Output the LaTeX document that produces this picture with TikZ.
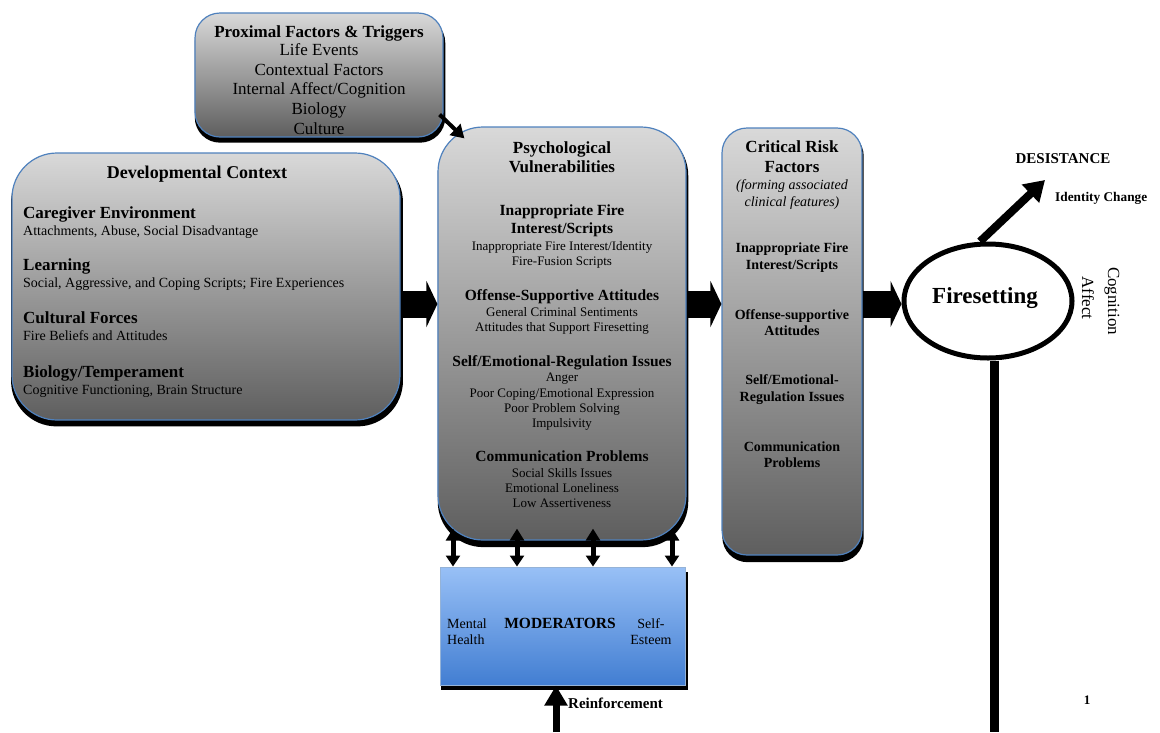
\documentclass[tikz,border=0pt]{standalone}
\usepackage{fontspec}
\setmainfont{Liberation Serif}
\usetikzlibrary{arrows.meta, shapes.geometric, shadows, positioning}

\definecolor{boxline}{RGB}{79,129,189}
\definecolor{modtop}{RGB}{152,192,246}
\definecolor{modbot}{RGB}{66,126,210}

\begin{document}
\begin{tikzpicture}[x=1pt, y=-1pt, inner sep=0pt,
  gray box/.style={draw=boxline, line width=1.2pt, top color=black!15, bottom color=black!63,
    drop shadow={opacity=1, fill=black, shadow xshift=1pt, shadow yshift=-5pt, shadow scale=1.01}},
  blue box/.style={draw=boxline!60, line width=1pt, top color=modtop, bottom color=modbot,
    drop shadow={opacity=1, fill=black, shadow xshift=2pt, shadow yshift=-5pt, shadow scale=1.005}},
  fire node/.style={ellipse, draw=black, line width=5pt, fill=white, minimum width=168pt, minimum height=114pt},
  title node/.style={anchor=base, font=\fontsize{17}{20}\selectfont\bfseries},
  prox item/.style={anchor=base, font=\fontsize{17}{20}\selectfont},
  dev head/.style={anchor=base west, font=\fontsize{17}{20}\selectfont\bfseries},
  dev item/.style={anchor=base west, font=\fontsize{14}{16}\selectfont},
  head node/.style={anchor=base, font=\fontsize{15.5}{18}\selectfont\bfseries},
  item node/.style={anchor=base, font=\fontsize{13}{15}\selectfont},
  note node/.style={anchor=base, font=\fontsize{14}{16}\selectfont\itshape},
  crit head/.style={anchor=base, font=\fontsize{14}{16}\selectfont\bfseries},
  small label/.style={anchor=base, font=\fontsize{15}{17}\selectfont\bfseries},
  big arrow/.style={line width=27pt, -{Triangle[width=46pt,length=11pt]}},
  small arrow/.style={line width=4pt, -{Triangle[width=15pt,length=13pt]}},
  mod arrow/.style={line width=5pt, {Triangle[width=14pt,length=11pt]}-{Triangle[width=14pt,length=12pt]}}]
  \useasboundingbox (0,0) rectangle (1160,732);

  % boxes
  \node[gray box, rounded corners=25pt, minimum width=248pt, minimum height=124pt] (prox) at (319,75) {};
  \node[gray box, rounded corners=45pt, minimum width=388pt, minimum height=267pt] (dev) at (206,286.5) {};
  \node[gray box, rounded corners=45pt, minimum width=248pt, minimum height=413pt] (psy) at (562,333.5) {};
  \node[gray box, rounded corners=25pt, minimum width=140pt, minimum height=427pt] (crit) at (792,341.5) {};
  \node[blue box, minimum width=245pt, minimum height=118pt] (mod) at (562.5,626) {};
  \node[fire node] (fire) at (988,301) {};

  % proximal factors
  \node[title node] (prox-t) at (prox.center |- 0,37) {Proximal Factors \& Triggers};
  \foreach \t [count=\i] in {Life Events, Contextual Factors, Internal Affect/Cognition, Biology, Culture}
    \node[prox item] (prox-\i) at (prox.center |- 0,{36+19.6*\i}) {\t};

  % developmental context
  \node[title node, font=\fontsize{18}{20}\selectfont\bfseries] (dev-t) at (197,178.5) {Developmental Context};
  \foreach \y/\h/\s [count=\i] in {218/Caregiver Environment/{Attachments, Abuse, Social Disadvantage},
      270/Learning/{Social, Aggressive, and Coping Scripts; Fire Experiences},
      323/Cultural Forces/Fire Beliefs and Attitudes,
      377/{Biology/Temperament}/{Cognitive Functioning, Brain Structure}} {
    \node[dev head] (dev-h\i) at (23,\y) {\h};
    \node[dev item] (dev-s\i) at (23,\y+17) {\s};
  }

  % psychological vulnerabilities
  \foreach \y/\s/\t [count=\i] in {153/title node/Psychological, 172/title node/Vulnerabilities,
      215.5/head node/Inappropriate Fire, 233.5/head node/{Interest/Scripts},
      250/item node/{Inappropriate Fire Interest/Identity}, 265/item node/Fire-Fusion Scripts,
      300.5/head node/Offense-Supportive Attitudes, 316/item node/General Criminal Sentiments,
      331/item node/Attitudes that Support Firesetting,
      366.5/head node/{Self/Emotional-Regulation Issues}, 381/item node/Anger,
      397/item node/{Poor Coping/Emotional Expression}, 412/item node/Poor Problem Solving,
      427/item node/Impulsivity, 461.5/head node/Communication Problems,
      477/item node/Social Skills Issues, 492/item node/Emotional Loneliness,
      507/item node/Low Assertiveness}
    \node[\s] (psy-\i) at (psy.center |- 0,\y) {\t};

  % critical risk factors
  \foreach \y/\s/\t [count=\i] in {152/title node/Critical Risk, 172/title node/Factors,
      189/note node/(forming associated, 206/note node/clinical features),
      252/crit head/Inappropriate Fire, 269/crit head/{Interest/Scripts},
      319/crit head/Offense-supportive, 335/crit head/Attitudes,
      384/crit head/{Self/Emotional-}, 401/crit head/Regulation Issues,
      451/crit head/Communication, 467/crit head/Problems}
    \node[\s] (crit-\i) at (crit.center |- 0,\y) {\t};

  % moderators
  \node[head node] (mod-t) at (560,628) {MODERATORS};
  \node[anchor=west, align=left, font=\fontsize{14}{16}\selectfont] (mod-l) at (447,631.5) {Mental\\Health};
  \node[align=center, font=\fontsize{14}{16}\selectfont] (mod-r) at (651,631.5) {Self-\\Esteem};
  \node[small label, anchor=base west] (rein) at (568,708) {Reinforcement};

  % firesetting and desistance
  \node[anchor=base, font=\fontsize{23}{27}\selectfont\bfseries] (fire-t) at (985,303) {Firesetting};
  \node[small label] (desist) at (1063,163) {DESISTANCE};
  \node[small label, anchor=base west, font=\fontsize{13.3}{15}\selectfont\bfseries] (ident) at (1055,201) {Identity Change};
  \node[rotate=-90, font=\fontsize{17}{20}\selectfont] (cog) at (1112,301) {Cognition};
  \node[rotate=-90, font=\fontsize{17}{20}\selectfont] (aff) at (1088,298) {Affect};
  \node[small label, font=\fontsize{13}{15}\selectfont\bfseries] (page) at (1087,704) {1};

  % arrows
  \coordinate (mid) at (0,304);
  \draw[big arrow] (dev.east |- mid) -- (psy.west |- mid);
  \draw[big arrow] (psy.east |- mid) -- (crit.west |- mid);
  \draw[big arrow] (crit.east |- mid) -- (fire.west |- mid);
  \draw[small arrow] ([xshift=-4pt,yshift=23pt]prox.south east) -- ([xshift=27pt,yshift=-12pt]psy.north west);

  \coordinate (des) at (1045,180);
  \draw[line width=8pt, -{Triangle[width=24pt,length=20pt]}] ([xshift=-8pt]fire.north) -- (des);
  \coordinate (bot) at (994,732);
  \draw[line width=9pt] (fire.south -| bot) -- (bot);

  \coordinate (rbot) at (556,732);
  \draw[line width=7pt, -{Triangle[width=22pt,length=20pt]}] (rbot) -- (mod.south -| rbot);

  \coordinate (pb) at ([yshift=12pt]psy.south);
  \foreach \x in {453,517,593,672}
    \draw[mod arrow] (mod.north -| \x,0) -- (pb -| \x,0);
\end{tikzpicture}
\end{document}
